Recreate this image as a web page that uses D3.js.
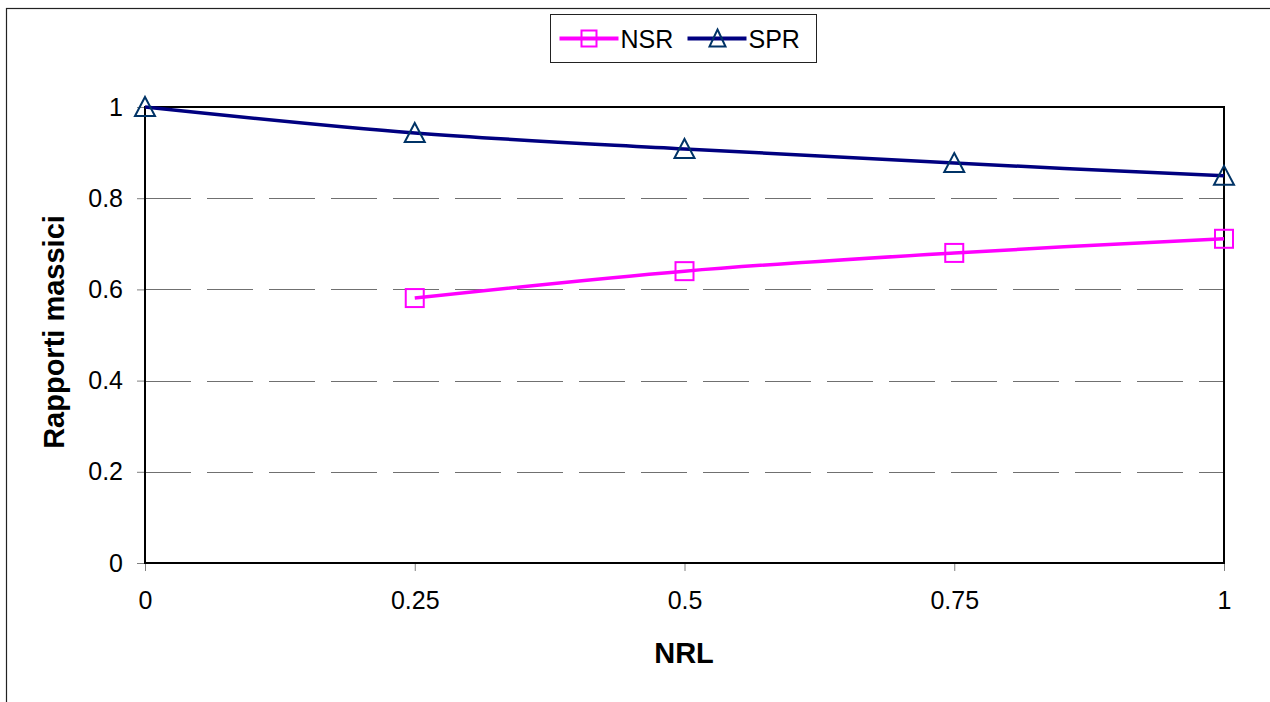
<!DOCTYPE html>
<html>
<head>
<meta charset="utf-8">
<script src="https://cdn.jsdelivr.net/npm/d3@7"></script>
<style>
  body { margin: 0; background: #fff; }
  text { font-family: "Liberation Sans", Arial, sans-serif; }
</style>
</head>
<body>
<div id="chart"></div>
<script>
// data
const nrl = [0, 0.25, 0.5, 0.75, 1];
const spr = [1.0, 0.943, 0.908, 0.877, 0.849];
const nsr = [null, 0.581, 0.640, 0.680, 0.711];
const xTicks = [0, 0.25, 0.5, 0.75, 1];
const yTicks = [0, 0.2, 0.4, 0.6, 0.8, 1];

const width = 1270, height = 702;
const svg = d3.select('#chart')
  .append('svg')
  .attr('width', width)
  .attr('height', height);

svg.append('rect')
  .attr('width', width)
  .attr('height', height)
  .style('fill', '#fff');

// outer chart frame (runs off the right and bottom)
svg.append('rect')
  .attr('x', 6.5)
  .attr('y', 8.5)
  .attr('width', 1300)
  .attr('height', 800)
  .style('fill', 'none')
  .style('stroke', '#222')
  .style('stroke-width', 1.2);

const x = d3.scaleLinear().domain([0, 1]).range([145, 1224]);
const y = d3.scaleLinear().domain([0, 1]).range([563, 107]);

// grid lines
svg.append('g')
  .selectAll('line')
  .data(yTicks.filter(d => d > 0 && d < 1))
  .join('line')
  .attr('x1', x(0))
  .attr('x2', x(1))
  .attr('y1', d => Math.round(y(d)) + 0.5)
  .attr('y2', d => Math.round(y(d)) + 0.5)
  .style('stroke', '#707070')
  .style('stroke-width', 1)
  .style('stroke-dasharray', '46,16');

// axes
const yAxis = svg.append('g')
  .attr('transform', `translate(${x(0)},0)`)
  .call(d3.axisLeft(y).tickValues(yTicks).tickSize(8).tickPadding(14)
    .tickFormat(d => String(+d.toFixed(1))));
const xAxis = svg.append('g')
  .attr('transform', `translate(0,${y(0)})`)
  .call(d3.axisBottom(x).tickValues(xTicks).tickSize(8).tickPadding(20)
    .tickFormat(d => String(d)));

[yAxis, xAxis].forEach(a => {
  a.attr('font-size', null).attr('font-family', null);
  a.select('.domain').remove();
  a.selectAll('.tick line').style('stroke', '#808080');
  a.selectAll('.tick text')
    .style('font-size', '25px')
    .style('fill', '#000');
});

// plot area border
svg.append('rect')
  .attr('x', x(0))
  .attr('y', y(1))
  .attr('width', x(1) - x(0))
  .attr('height', y(0) - y(1))
  .style('fill', 'none')
  .style('stroke', '#000')
  .style('stroke-width', 2);

// axis titles
svg.append('text')
  .text('NRL')
  .attr('x', 684)
  .attr('y', 663)
  .attr('text-anchor', 'middle')
  .style('font-size', '29px')
  .style('font-weight', 'bold');

svg.append('text')
  .text('Rapporti massici')
  .attr('transform', 'translate(64,332) rotate(-90)')
  .attr('text-anchor', 'middle')
  .style('font-size', '29px')
  .style('font-weight', 'bold');

const line = d3.line()
  .x(d => x(d[0]))
  .y(d => y(d[1]))
  .curve(d3.curveCatmullRom.alpha(0.5));

const series = [
  { name: 'NSR', vals: nsr, color: '#ff00ff', marker: 'square', mcolor: '#ff00ff' },
  { name: 'SPR', vals: spr, color: '#000080', marker: 'triangle', mcolor: '#003366' }
];

function drawMarker(g, type, color) {
  if (type === 'square') {
    g.append('rect')
      .attr('x', -9).attr('y', -9)
      .attr('width', 18).attr('height', 18)
      .style('fill', 'none')
      .style('stroke', color)
      .style('stroke-width', 2);
  } else {
    g.append('path')
      .attr('d', 'M0,-10 L10,9 L-10,9 Z')
      .style('fill', 'none')
      .style('stroke', color)
      .style('stroke-width', 2);
  }
}

series.forEach(s => {
  const pts = nrl.map((v, i) => [v, s.vals[i]]).filter(d => d[1] != null);
  svg.append('path')
    .datum(pts)
    .attr('d', line)
    .style('fill', 'none')
    .style('stroke', s.color)
    .style('stroke-width', 3.5);
  pts.forEach(p => {
    const g = svg.append('g')
      .attr('transform', `translate(${x(p[0])},${y(p[1])})`);
    drawMarker(g, s.marker, s.mcolor);
  });
});

// legend
const legend = svg.append('g')
  .attr('transform', 'translate(550.5,14.5)');

legend.append('rect')
  .attr('width', 266)
  .attr('height', 48)
  .style('fill', '#fff')
  .style('stroke', '#222')
  .style('stroke-width', 1);

const legendX = [0, 128];
series.forEach((s, i) => {
  const g = legend.append('g')
    .attr('transform', `translate(${legendX[i]},24)`);
  g.append('line')
    .attr('x1', 9).attr('x2', 68)
    .style('stroke', s.color)
    .style('stroke-width', 4);
  const m = g.append('g').attr('transform', 'translate(39,0)');
  if (s.marker === 'square') {
    m.append('rect')
      .attr('x', -8).attr('y', -8)
      .attr('width', 15).attr('height', 16)
      .style('fill', 'none')
      .style('stroke', s.mcolor)
      .style('stroke-width', 2);
  } else {
    m.append('path')
      .attr('d', 'M0,-9 L8,8 L-8,8 Z')
      .style('fill', 'none')
      .style('stroke', s.mcolor)
      .style('stroke-width', 2);
  }
  g.append('text')
    .text(s.name)
    .attr('x', 70)
    .attr('y', 9)
    .style('font-size', '25px');
});
</script>
</body>
</html>
